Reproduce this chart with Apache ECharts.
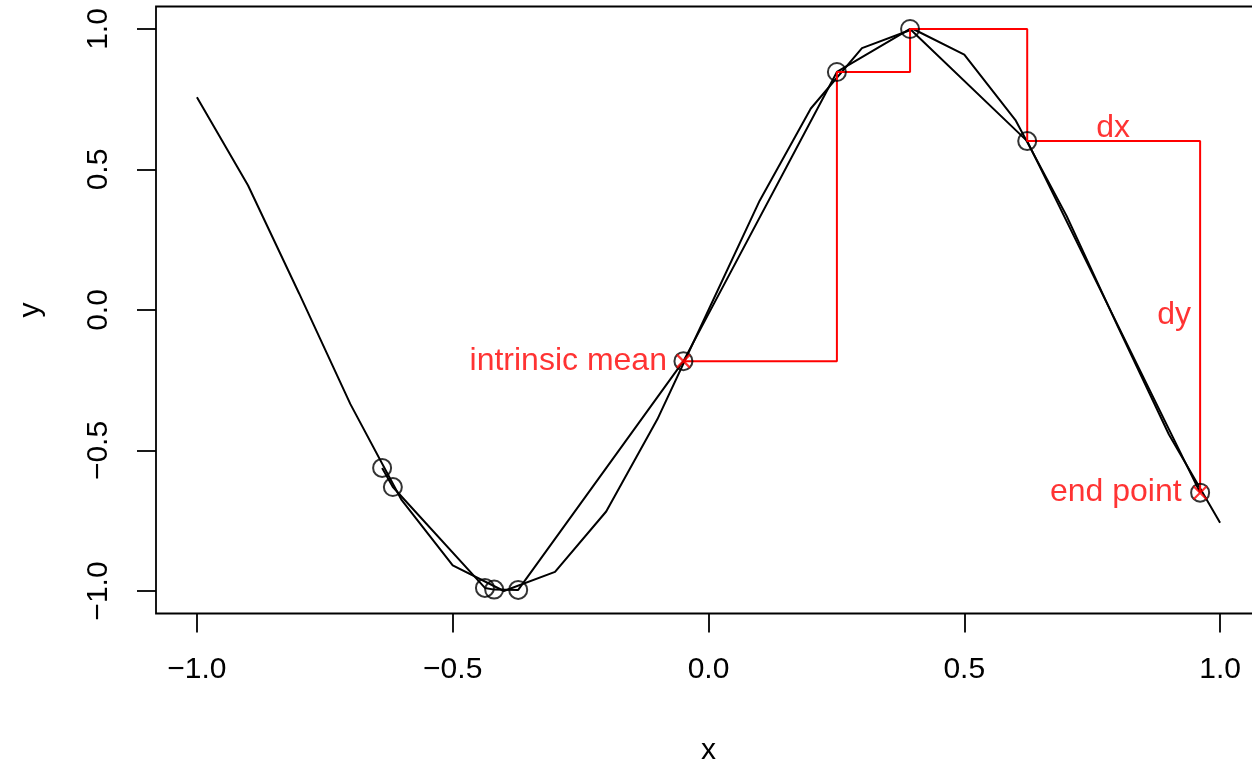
<!DOCTYPE html>
<html>
<head>
<meta charset="utf-8">
<script src="https://cdn.jsdelivr.net/npm/echarts@6/dist/echarts.min.js"></script>
<style>
html,body{margin:0;padding:0;background:#fff;}
#c{width:1252px;height:766px;}
</style>
</head>
<body>
<div id="c"></div>
<script>
// sampled curve (coarse, step 0.1)
const curveX = [-1.0,-0.9,-0.8,-0.7,-0.6,-0.5,-0.4,-0.3,-0.2,-0.1,0.0,0.1,0.2,0.3,0.4,0.5,0.6,0.7,0.8,0.9,1.0];
const curveY = [0.757,0.443,0.058,-0.335,-0.676,-0.909,-1.000,-0.932,-0.717,-0.389,0.000,0.389,0.717,0.932,1.000,0.909,0.676,0.335,-0.058,-0.443,-0.757];
// observed points (circles), sorted by x
const pointX = [-0.638,-0.617,-0.437,-0.419,-0.372,-0.049,0.251,0.394,0.623,0.961];
const pointY = [-0.562,-0.630,-0.989,-0.995,-0.996,-0.182,0.847,1.000,0.601,-0.650];
// index of the intrinsic mean and end point among the points
const meanIndex = 5;
const endIndex = 9;
// annotation texts
const annoText = ['intrinsic mean','end point','dx','dy'];
const dxAnchor = [0.791, 0.648];
const dyAnchor = [0.910, -0.018];
// tick labels
const xTicks = [-1.0,-0.5,0.0,0.5,1.0];
const yTicks = [-1.0,-0.5,0.0,0.5,1.0];

const FONT = "'Liberation Sans', Arial, Helvetica, sans-serif";
const FS = 30;
const AFS = 32;
const fmt = v => (v < 0 ? '\u2212' : '') + Math.abs(v).toFixed(1);

const curveData = curveX.map((x,i)=>[x, curveY[i]]);
const pointData = pointX.map((x,i)=>[x, pointY[i]]);
const stepData = pointData.slice(meanIndex, endIndex + 1);

const chart = echarts.init(document.getElementById('c'), null, {renderer:'canvas'});
chart.setOption({
  animation:false,
  backgroundColor:'#fff',
  grid:{left:156, width:1105, top:6.5, height:607, outerBoundsMode:'none', containLabel:false,
        show:true, borderColor:'#000', borderWidth:1.8, backgroundColor:'transparent'},
  xAxis:{
    type:'value', min:-1.08, max:1.08,
    splitLine:{show:false},
    axisLine:{show:false, onZero:false},
    axisTick:{show:true, customValues:xTicks, length:19, inside:false, lineStyle:{color:'#000', width:1.8}},
    axisLabel:{customValues:xTicks, formatter:fmt, color:'#000', fontFamily:FONT, fontSize:FS, margin:41},
    name:'x', nameLocation:'middle', nameGap:122,
    nameTextStyle:{color:'#000', fontFamily:FONT, fontSize:FS}
  },
  yAxis:{
    type:'value', min:-1.08, max:1.08,
    splitLine:{show:false},
    axisLine:{show:false, onZero:false},
    axisTick:{show:true, customValues:yTicks, length:19, inside:false, lineStyle:{color:'#000', width:1.8}},
    axisLabel:{customValues:yTicks, formatter:fmt, color:'#000', fontFamily:FONT, fontSize:FS, margin:42, rotate:90},
    name:'y', nameLocation:'middle', nameGap:110,
    nameTextStyle:{color:'#000', fontFamily:FONT, fontSize:FS}
  },
  series:[
    {type:'line', data:curveData, symbol:'none', lineStyle:{color:'#000', width:2}, silent:true, z:2},
    {type:'line', data:pointData, symbol:'none', lineStyle:{color:'#000', width:2}, silent:true, z:2},
    {type:'line', data:stepData, step:'end', symbol:'none', lineStyle:{color:'#ff0000', width:2}, silent:true, z:3},
    {type:'scatter', data:pointData, symbol:'circle', symbolSize:18,
     itemStyle:{color:'rgba(0,0,0,0)', borderColor:'#000', borderWidth:2}, silent:true, z:4},
    {type:'scatter', data:[pointData[meanIndex], pointData[endIndex]], symbol:'path://M0,0L10,10M10,0L0,10', symbolSize:13,
     itemStyle:{color:'rgba(0,0,0,0)', borderColor:'#ff0000', borderWidth:2.2}, silent:true, z:5},
    {type:'scatter', symbol:'circle', symbolSize:1, itemStyle:{color:'rgba(0,0,0,0)'}, silent:true, z:6,
     data:[
       {value:pointData[meanIndex], label:{show:true, formatter:annoText[0], position:'left', distance:16}},
       {value:pointData[endIndex], label:{show:true, formatter:annoText[1], position:'left', distance:18}},
       {value:dxAnchor, label:{show:true, formatter:annoText[2], position:'inside'}},
       {value:dyAnchor, label:{show:true, formatter:annoText[3], position:'inside'}}
     ],
     label:{color:'#ff0000', fontFamily:FONT, fontSize:AFS}
    }
  ]
});
</script>
</body>
</html>
